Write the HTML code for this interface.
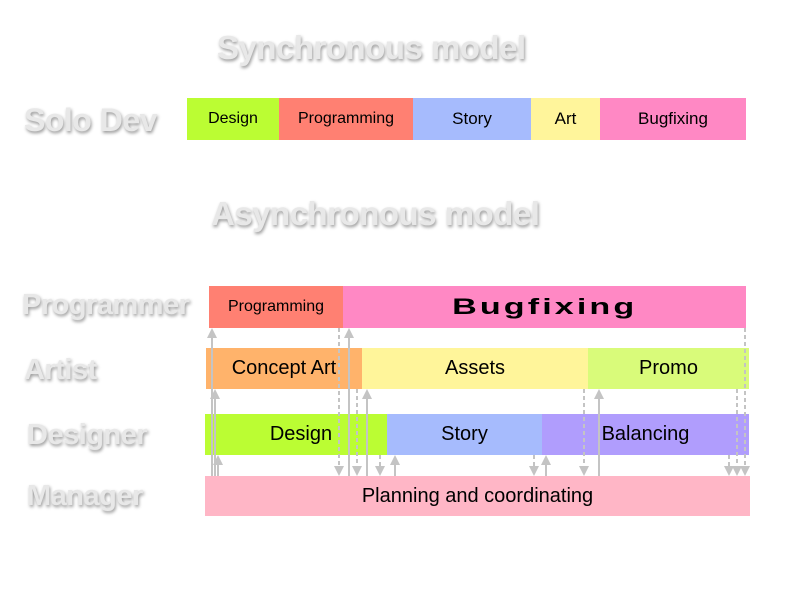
<!DOCTYPE html>
<html><head><meta charset="utf-8"><style>
body{margin:0;width:800px;height:600px;background:#fff;position:relative;overflow:hidden;font-family:"Liberation Sans",sans-serif}
.t{position:absolute;font-weight:bold;color:#e8e8e8;text-shadow:1px 2px 3px #999;white-space:nowrap;letter-spacing:-0.5px}
.b{position:absolute;display:flex;align-items:center;justify-content:center;color:#000;white-space:nowrap}
svg{position:absolute;left:0;top:0}
</style></head><body>
<div class="t" style="left:217px;top:29px;font-size:33px">Synchronous model</div>
<div class="t" style="left:211px;top:195px;font-size:33px">Asynchronous model</div>
<div class="t" style="left:24px;top:102px;font-size:32px">Solo Dev</div>
<div class="t" style="left:22px;top:289px;font-size:29px">Programmer</div>
<div class="t" style="left:24px;top:354px;font-size:29px">Artist</div>
<div class="t" style="left:27px;top:419px;font-size:29px">Designer</div>
<div class="t" style="left:27px;top:480px;font-size:29px">Manager</div>

<div class="b" style="left:187px;top:98px;width:92px;height:42px;background:#bbfd33;font-size:16px">Design</div>
<div class="b" style="left:279px;top:98px;width:134px;height:42px;background:#ff8072;font-size:16px">Programming</div>
<div class="b" style="left:413px;top:98px;width:118px;height:42px;background:#a6bbfd;font-size:17px">Story</div>
<div class="b" style="left:531px;top:98px;width:69px;height:42px;background:#fff59b;font-size:17px">Art</div>
<div class="b" style="left:600px;top:98px;width:146px;height:42px;background:#ff88c4;font-size:17px">Bugfixing</div>

<div class="b" style="left:209px;top:286px;width:134px;height:42px;background:#ff8072;font-size:16px">Programming</div>
<div class="b" style="left:343px;top:286px;width:403px;height:42px;background:#ff88c4;font-size:22px;font-weight:bold;"><span style="display:inline-block;transform:scaleX(1.55);letter-spacing:2px">Bugfixing</span></div>
<div class="b" style="left:206px;top:348px;width:156px;height:41px;background:#ffb36b;font-size:20px">Concept Art</div>
<div class="b" style="left:362px;top:348px;width:226px;height:41px;background:#fff59a;font-size:20px">Assets</div>
<div class="b" style="left:588px;top:348px;width:161px;height:41px;background:#d9fb7a;font-size:20px">Promo</div>
<div class="b" style="left:205px;top:414px;width:182px;height:41px;background:#bbfd33;font-size:20px;padding-left:10px;box-sizing:border-box">Design</div>
<div class="b" style="left:387px;top:414px;width:155px;height:41px;background:#a6bbfd;font-size:20px">Story</div>
<div class="b" style="left:542px;top:414px;width:207px;height:41px;background:#b09dfd;font-size:20px">Balancing</div>
<div class="b" style="left:205px;top:476px;width:545px;height:40px;background:#ffb6c6;font-size:20px">Planning and coordinating</div>

<svg width="800" height="600">
<g stroke="#c4c4c4" stroke-width="2" fill="none">
<line x1="212" y1="476" x2="212" y2="336"/>
<line x1="215" y1="476" x2="215" y2="397"/>
<line x1="218" y1="476" x2="218" y2="463"/>
<line x1="349" y1="476" x2="349" y2="336"/>
<line x1="367" y1="476" x2="367" y2="397"/>
<line x1="395" y1="476" x2="395" y2="463"/>
<line x1="546" y1="476" x2="546" y2="463"/>
<line x1="599" y1="476" x2="599" y2="397"/>
<g stroke-dasharray="4,3">
<line x1="339" y1="328" x2="339" y2="468"/>
<line x1="357" y1="389" x2="357" y2="468"/>
<line x1="380" y1="455" x2="380" y2="468"/>
<line x1="534" y1="455" x2="534" y2="468"/>
<line x1="584" y1="389" x2="584" y2="468"/>
<line x1="729" y1="455" x2="729" y2="468"/>
<line x1="737" y1="389" x2="737" y2="468"/>
<line x1="745" y1="328" x2="745" y2="468"/>
</g>
</g>
<g fill="#c4c4c4">
<path d="M207,338 L212,328 L217,338Z"/>
<path d="M210,399 L215,389 L220,399Z"/>
<path d="M213,465 L218,455 L223,465Z"/>
<path d="M344,338 L349,328 L354,338Z"/>
<path d="M362,399 L367,389 L372,399Z"/>
<path d="M390,465 L395,455 L400,465Z"/>
<path d="M541,465 L546,455 L551,465Z"/>
<path d="M594,399 L599,389 L604,399Z"/>
<path d="M334,466 L339,476 L344,466Z"/>
<path d="M352,466 L357,476 L362,466Z"/>
<path d="M375,466 L380,476 L385,466Z"/>
<path d="M529,466 L534,476 L539,466Z"/>
<path d="M579,466 L584,476 L589,466Z"/>
<path d="M724,466 L729,476 L734,466Z"/>
<path d="M732,466 L737,476 L742,466Z"/>
<path d="M740,466 L745,476 L750,466Z"/>
</g>
</svg>
</body></html>
